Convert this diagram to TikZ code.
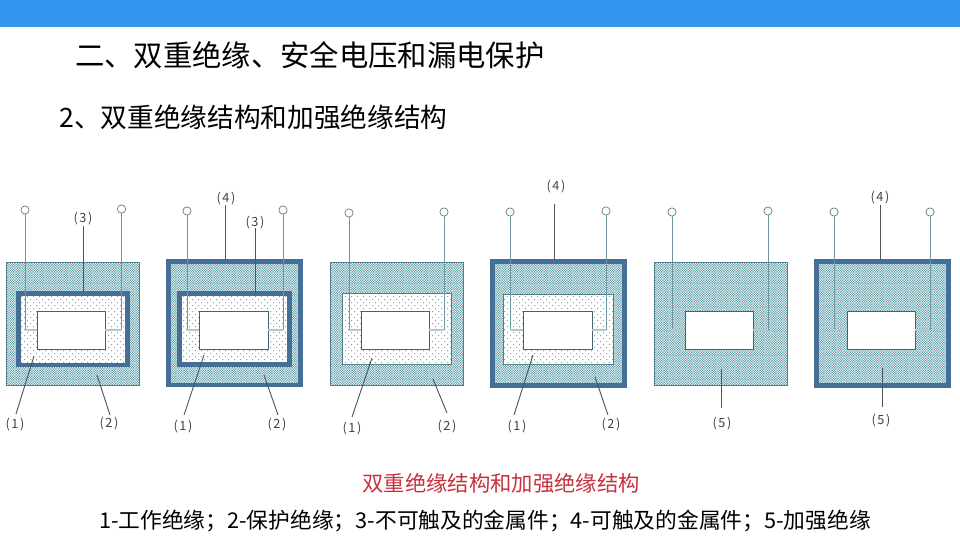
\documentclass[tikz,border=0pt]{standalone}
\usepackage{fontspec}
\setmainfont{Noto Sans CJK SC}
\usetikzlibrary{patterns}
\definecolor{barblue}{HTML}{3096EE}
\definecolor{frameblue}{HTML}{456F96}
\definecolor{edgeteal}{HTML}{4F7F8A}
\definecolor{hatchteal}{HTML}{66A2AC}
\definecolor{wiredark}{HTML}{6F97A3}
\definecolor{wirelight}{HTML}{B4C8CC}
\definecolor{leaderc}{HTML}{4A5560}
\definecolor{dotgrey}{HTML}{86A4AE}
\definecolor{redtxt}{HTML}{C8303A}
\pgfdeclarepatternformonly{densecheck}{\pgfqpoint{-0.1pt}{-0.1pt}}{\pgfqpoint{1.9pt}{1.9pt}}{\pgfqpoint{1.8pt}{1.8pt}}{%
  \pgfpathrectangle{\pgfqpoint{0pt}{0pt}}{\pgfqpoint{0.9pt}{0.9pt}}%
  \pgfpathrectangle{\pgfqpoint{0.9pt}{0.9pt}}{\pgfqpoint{0.9pt}{0.9pt}}%
  \pgfusepath{fill}}
\pgfdeclarepatternformonly{sparsedots}{\pgfqpoint{-0.5pt}{-0.5pt}}{\pgfqpoint{4.5pt}{4.5pt}}{\pgfqpoint{4.5pt}{4.5pt}}{%
  \pgfpathrectangle{\pgfqpoint{0pt}{0pt}}{\pgfqpoint{0.75pt}{0.75pt}}%
  \pgfpathrectangle{\pgfqpoint{2.25pt}{2.25pt}}{\pgfqpoint{0.75pt}{0.75pt}}%
  \pgfusepath{fill}}
\tikzset{
  rectbox/.style={rectangle,inner sep=0pt,outer sep=0pt},
  dense/.style={rectbox,preaction={fill=white},pattern=densecheck,pattern color=hatchteal,draw=edgeteal,line width=0.75pt},
  sparse/.style={rectbox,preaction={fill=white},pattern=sparsedots,pattern color=dotgrey,draw=edgeteal,line width=0.75pt},
  denseframed/.style={rectbox,preaction={fill=white},pattern=densecheck,pattern color=hatchteal,draw=frameblue,line width=3.4pt},
  sparseframed/.style={rectbox,preaction={fill=white},pattern=sparsedots,pattern color=dotgrey,draw=frameblue,line width=3.4pt},
  corebox/.style={rectbox,draw=edgeteal!80!black,line width=0.75pt,fill=white},
  terminal/.style={circle,draw=black!55,line width=0.5pt,fill=white,minimum size=6.2pt,inner sep=0pt,outer sep=0pt},
  wirev/.style={draw=wiredark,line width=0.7pt},
  wireh/.style={draw=wirelight,line width=0.9pt},
  leader/.style={draw=leaderc,line width=0.7pt},
  tag/.style={font=\fontsize{9.5}{11}\selectfont\addfontfeature{LetterSpace=12},text=black!75,inner sep=0pt,yshift=-1pt},
  page/.style={inner sep=0pt,text=black},
}
% \rbox{name}{style}{x1}{y1}{x2}{y2}
\newcommand{\rbox}[6]{\node[#2,minimum width={(#5-#3)*0.75pt},minimum height={(#6-#4)*0.75pt}] (#1) at ({(#3+#5)/2},{(#4+#6)/2}) {};}
% \wires{prefix}{xl}{yl}{xr}{yr}
\newcommand{\wires}[5]{%
  \node[terminal] (#1tl) at (#2,#3) {};
  \node[terminal] (#1tr) at (#4,#5) {};
  \coordinate (#1cl) at (#1tl.south |- #1core.west);
  \coordinate (#1cr) at (#1tr.south |- #1core.east);
  \draw[wirev] (#1tl.south) -- (#1cl);
  \draw[wirev] (#1tr.south) -- (#1cr);
  \draw[wireh] (#1cl) -- (#1core.west);
  \draw[wireh] (#1cr) -- (#1core.east);
}
% \tagline{name}{text}{x}{y}{from x}{from y}{to x}{to y}
\newcommand{\tagline}[8]{%
  \node[tag] (#1) at (#3,#4) {#2};
  \coordinate (#1a) at (#5,#6);
  \coordinate (#1b) at (#7,#8);
  \draw[leader] (#1a) -- (#1b);
}
\begin{document}
\begin{tikzpicture}[x=0.75pt,y=-0.75pt]
\useasboundingbox (0,0) rectangle (960,540);
\fill[barblue] (0,0) rectangle (960,27);
\node[page,anchor=west,font=\fontsize{22}{26}\selectfont] (title) at (75,55) {二、双重绝缘、安全电压和漏电保护};
\node[page,anchor=west,font=\fontsize{20}{24}\selectfont] (sub) at (59,117) {2、双重绝缘结构和加强绝缘结构};
\node[page,text=redtxt,font=\fontsize{16}{19}\selectfont] (cap) at (501,483) {双重绝缘结构和加强绝缘结构};
\node[page,font=\fontsize{16.3}{19}\selectfont] (legend) at (485,521) {1-工作绝缘；2-保护绝缘；3-不可触及的金属件；4-可触及的金属件；5-加强绝缘};

% diagram 1
\rbox{Aout}{dense}{6}{262}{139}{385}
\rbox{Ainn}{sparseframed}{18.5}{293.5}{127.5}{365}
\rbox{Acore}{corebox}{37}{311}{105}{349}
\wires{A}{25}{210}{121.5}{209}
\tagline{Al3}{(3)}{83}{217}{83}{226}{83}{292}
\tagline{Al1}{(1)}{15}{423}{34}{356}{16}{414}
\tagline{Al2}{(2)}{109}{422}{97}{375}{110}{415}

% diagram 2
\rbox{Bout}{denseframed}{168.5}{261.5}{300.5}{385}
\rbox{Binn}{sparseframed}{179.5}{293.5}{289.5}{364.5}
\rbox{Bcore}{corebox}{199}{311}{268}{349}
\wires{B}{187}{211}{283}{210}
\tagline{Bl4}{(4)}{226}{197}{225}{205}{225}{260}
\tagline{Bl3}{(3)}{255}{221}{255}{228}{255}{293}
\tagline{Bl1}{(1)}{183}{425}{204}{355}{184}{415}
\tagline{Bl2}{(2)}{277}{423}{264}{375}{278}{415}

% diagram 3
\rbox{Cout}{dense}{330}{262}{463}{385}
\rbox{Cinn}{sparse}{342}{293}{451}{364}
\rbox{Ccore}{corebox}{361}{311}{429}{349}
\wires{C}{349}{213}{444}{212}
\tagline{Cl1}{(1)}{352}{427}{372}{358}{352}{417}
\tagline{Cl2}{(2)}{447}{425}{433}{379}{447}{413}

% diagram 4
\rbox{Dout}{denseframed}{492.5}{261.5}{624.5}{385.5}
\rbox{Dinn}{sparse}{503}{294}{613}{364}
\rbox{Dcore}{corebox}{523}{311}{592}{349}
\wires{D}{510}{212}{606}{211}
\tagline{Dl4}{(4)}{556}{185}{554}{204}{554}{260}
\tagline{Dl1}{(1)}{517}{425}{533}{355}{514}{415}
\tagline{Dl2}{(2)}{611}{423}{595}{377}{608}{415}

% diagram 5
\rbox{Eout}{dense}{654}{262}{787}{385}
\rbox{Ecore}{corebox}{685}{311}{753}{349}
\wires{E}{672}{212}{768}{211}
\tagline{El5}{(5)}{722}{422}{721}{369}{721}{408}

% diagram 6
\rbox{Fout}{denseframed}{816.5}{261.5}{948.5}{385.5}
\rbox{Fcore}{corebox}{847}{311}{915}{349}
\wires{F}{834}{212}{930}{212}
\tagline{Fl4}{(4)}{880}{196}{880}{205}{880}{260}
\tagline{Fl5}{(5)}{881}{419}{882}{368}{882}{407}
\end{tikzpicture}
\end{document}
